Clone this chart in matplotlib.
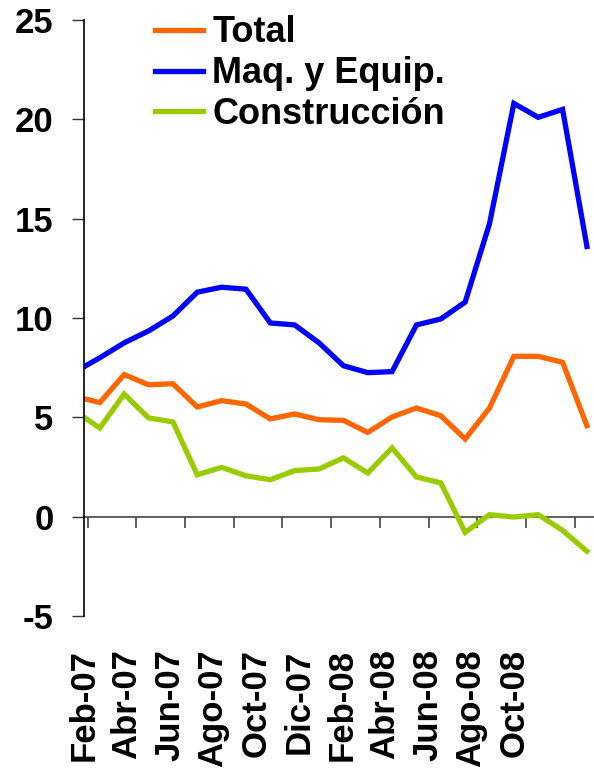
import numpy as np
import matplotlib
matplotlib.use("Agg")
from matplotlib import pyplot as plt

plt.rcParams['font.family'] = ['Liberation Sans', 'DejaVu Sans']
plt.rcParams['font.weight'] = 'bold'
plt.rcParams['axes.unicode_minus'] = False

# monthly data, Jan-07 .. Oct-08
months = ['Ene-07', 'Feb-07', 'Mar-07', 'Abr-07', 'May-07', 'Jun-07', 'Jul-07',
          'Ago-07', 'Sep-07', 'Oct-07', 'Nov-07', 'Dic-07', 'Ene-08', 'Feb-08',
          'Mar-08', 'Abr-08', 'May-08', 'Jun-08', 'Jul-08', 'Ago-08', 'Sep-08',
          'Oct-08']
total = [6.05, 5.74, 7.15, 6.64, 6.69, 5.52, 5.84, 5.67, 4.92, 5.17, 4.88,
         4.85, 4.24, 5.02, 5.47, 5.08, 3.91, 5.47, 8.07, 8.07, 7.77, 4.58]
maq = [7.3, 8.0, 8.75, 9.35, 10.1, 11.3, 11.55, 11.45, 9.75, 9.65, 8.75,
       7.6, 7.25, 7.3, 9.65, 9.95, 10.8, 14.75, 20.8, 20.1, 20.5, 13.6]
constr = [5.3, 4.46, 6.17, 4.97, 4.77, 2.11, 2.48, 2.06, 1.86, 2.32, 2.40,
          2.96, 2.20, 3.46, 2.00, 1.70, -0.79, 0.10, -0.02, 0.10, -0.69, -1.74]

tick_labels = ['Feb-07', 'Abr-07', 'Jun-07', 'Ago-07', 'Oct-07', 'Dic-07',
               'Feb-08', 'Abr-08', 'Jun-08', 'Ago-08', 'Oct-08']

x = np.arange(len(months))

fig = plt.figure(figsize=(5.94, 7.68), dpi=100)
ax = fig.add_axes([84 / 594, (768 - 616) / 768, 1 - 84 / 594, 596 / 768])

ax.plot(x, total, color='#FF6600', lw=3.8, label='Total', solid_joinstyle='miter')
ax.plot(x, maq, color='#0000FF', lw=3.8, label='Maq. y Equip.', solid_joinstyle='miter')
ax.plot(x, constr, color='#99CC00', lw=3.8, label='Construcción', solid_joinstyle='miter')

ax.set_xlim(0.47, 21.29)
ax.set_ylim(-5, 25)
ax.set_yticks(np.arange(-5, 26, 5))
ax.tick_params(axis='y', direction='out', length=9, width=1, pad=13,
               labelsize=25, color='#333333')

for s in ['top', 'right', 'bottom']:
    ax.spines[s].set_visible(False)
ax.spines['left'].set_linewidth(1.2)

# category labels (rotated) at the bottom
ax.set_xticks(np.linspace(0.35, 18.0, len(tick_labels)))
ax.set_xticklabels(tick_labels, rotation=90, fontsize=25)
ax.tick_params(axis='x', length=0, pad=24)

# zero line with tick marks every two months
zero = ax.secondary_xaxis(5 / 30)
zero.set_xticks(np.arange(0.5, 22, 2))
zero.set_xticklabels([])
zero.tick_params(direction='out', length=8, width=1.2, color='#444444')
zero.spines['bottom'].set_color('#444444')
zero.spines['bottom'].set_linewidth(1.2)

ax.legend(loc='upper left', bbox_to_anchor=(0.11, 1.032), frameon=False,
          prop={'size': 26, 'weight': 'bold'}, handlelength=1.35,
          handletextpad=0.25, labelspacing=0.16, borderaxespad=0)

fig.savefig('out.png', dpi=100)
